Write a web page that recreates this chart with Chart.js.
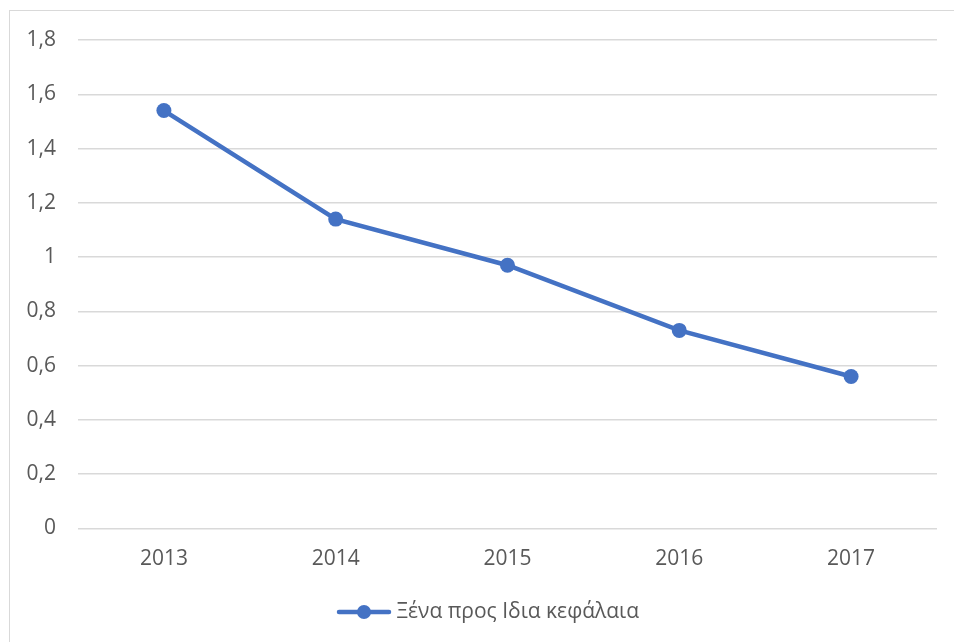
<!DOCTYPE html>
<html>
<head>
<meta charset="utf-8">
<script src="https://cdn.jsdelivr.net/npm/chart.js@4/dist/chart.umd.min.js"></script>
<style>
  html, body { margin: 0; padding: 0; background: #fff; overflow: hidden; }
  #wrap { position: relative; width: 954px; height: 642px; }
  #frame {
    position: absolute; left: 9px; top: 10px; width: 1000px; height: 700px;
    border: 1.5px solid #d9d9d9; box-sizing: border-box;
  }
  canvas { position: absolute; left: 0; top: 0; }
</style>
</head>
<body>
<div id="wrap">
  <div id="frame"></div>
  <canvas id="chart" width="954" height="642"></canvas>
</div>
<script>
const years = ['2013', '2014', '2015', '2016', '2017'];
const debtToEquity = [1.54, 1.14, 0.97, 0.73, 0.56];
const seriesName = 'Ξένα προς Ιδια κεφάλαια';
const yTicks = [0, 0.2, 0.4, 0.6, 0.8, 1, 1.2, 1.4, 1.6, 1.8];

const BLUE = '#4472C4';
const TEXT = '#595959';
const GRID = '#d9d9d9';
const FONT = "'Open Sans', 'Noto Sans', sans-serif";
const SIZE = 21;

// Legend marker: a short line with a dot in the middle
function legendMarker() {
  const c = document.createElement('canvas');
  c.width = 56; c.height = 16;
  const g = c.getContext('2d');
  g.strokeStyle = BLUE; g.lineWidth = 4.5; g.lineCap = 'round';
  g.beginPath(); g.moveTo(3, 8); g.lineTo(53, 8); g.stroke();
  g.fillStyle = BLUE;
  g.beginPath(); g.arc(28, 8, 7, 0, Math.PI * 2); g.fill();
  return c;
}
const marker = legendMarker();

// Centre the legend under the plot area rather than the whole canvas
const legendShift = {
  id: 'legendShift',
  afterLayout(chart) {
    const lg = chart.legend;
    if (!lg) return;
    const dx = 22;
    lg.left += dx;
    lg.right += dx;
  }
};

new Chart(document.getElementById('chart'), {
  type: 'line',
  data: {
    labels: years,
    datasets: [{
      label: seriesName,
      data: debtToEquity,
      borderColor: BLUE,
      backgroundColor: BLUE,
      borderWidth: 4.5,
      pointRadius: 7.5,
      pointHoverRadius: 7.5,
      pointBackgroundColor: BLUE,
      pointBorderWidth: 0,
      tension: 0
    }]
  },
  plugins: [legendShift],
  options: {
    responsive: false,
    animation: false,
    layout: { padding: { top: 40, right: 17, bottom: 9.5, left: 0 } },
    scales: {
      x: {
        offset: true,
        grid: { display: false },
        border: { display: false },
        ticks: { color: TEXT, font: { family: FONT, size: SIZE }, padding: 10 },
        afterFit: s => { s.height = 61; }
      },
      y: {
        min: 0, max: 1.8,
        afterBuildTicks: s => { s.ticks = yTicks.map(v => ({ value: v })); },
        grid: { color: GRID, lineWidth: 1.5, drawTicks: false },
        border: { display: false },
        ticks: {
          color: TEXT, font: { family: FONT, size: SIZE }, padding: 22,
          callback: v => String(Math.round(v * 10) / 10).replace('.', ',')
        },
        afterFit: s => { s.width = 78; }
      }
    },
    plugins: {
      tooltip: { enabled: false },
      legend: {
        position: 'bottom',
        labels: {
          usePointStyle: true,
          pointStyleWidth: 44,
          color: TEXT,
          font: { family: FONT, size: SIZE },
          padding: 12,
          generateLabels: chart => chart.data.datasets.map((d, i) => ({
            text: d.label,
            fillStyle: BLUE,
            strokeStyle: BLUE,
            fontColor: TEXT,
            pointStyle: marker,
            lineWidth: 0,
            datasetIndex: i
          }))
        }
      }
    }
  }
});
</script>
</body>
</html>
